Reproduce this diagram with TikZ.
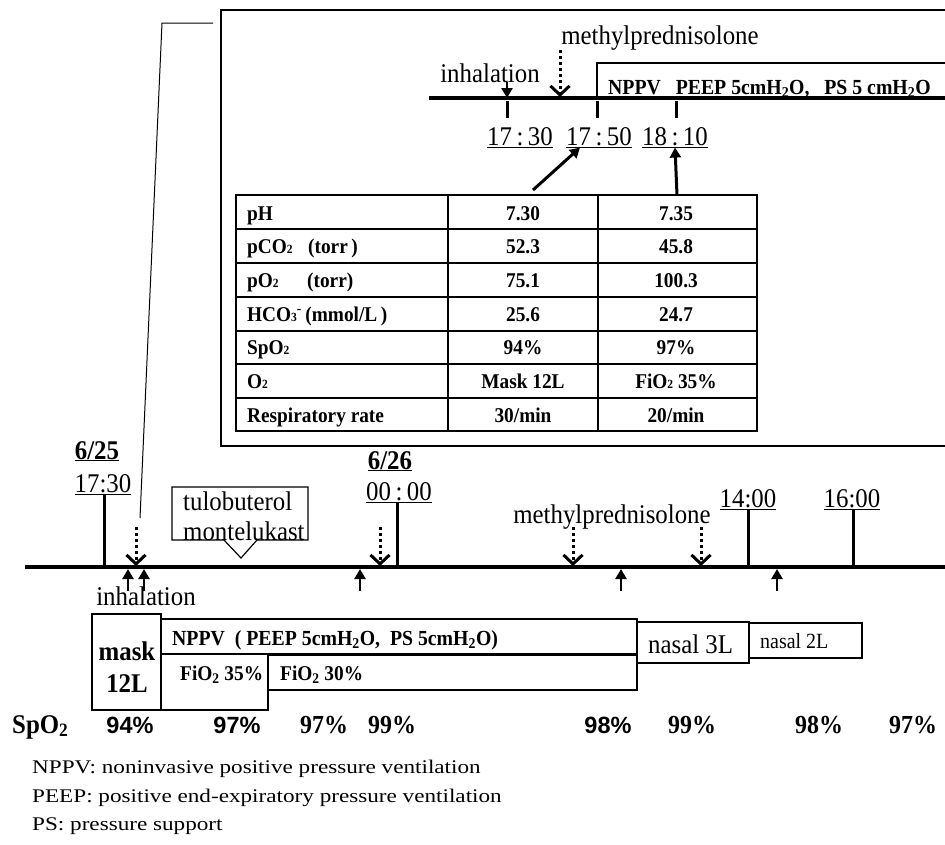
\documentclass[tikz,border=0pt]{standalone}
\usepackage{fontspec}
\setmainfont[FakeStretch=0.92]{Liberation Serif}
\newfontfamily\notefont[FakeStretch=1.2]{Liberation Serif}
\newfontfamily\arialfont{Liberation Sans}
\usetikzlibrary{positioning, arrows.meta}
\newcommand\lowdig[1]{{\fontsize{12.5}{12}\selectfont #1}}

\tikzset{
  txt/.style={inner sep=0pt, anchor=base, font=\fontsize{27}{30}\selectfont},
  bigbold/.style={inner sep=0pt, anchor=base, font=\bfseries\fontsize{27}{30}\selectfont},
  bld/.style={inner sep=0pt, anchor=base, font=\bfseries\fontsize{21}{24}\selectfont},
  nppvtxt/.style={inner sep=0pt, anchor=base west, font=\bfseries\fontsize{21.5}{24}\selectfont},
  sansval/.style={inner sep=0pt, anchor=base, font=\arialfont\bfseries\fontsize{23.5}{26}\selectfont},
  serifval/.style={inner sep=0pt, anchor=base, font=\bfseries\fontsize{26}{28}\selectfont},
  note/.style={inner sep=0pt, anchor=base west, font=\notefont\fontsize{19.3}{23}\selectfont},
  axis/.style={line width=4.5pt},
  tick/.style={line width=3pt},
  thin/.style={line width=1.2pt},
  solidarrow/.style={line width=3pt, -{Triangle[length=10pt,width=11pt]}},
  uparrow/.style={line width=2.5pt, -{Triangle[length=10pt,width=11pt]}},
  dotarrow/.style={line width=3pt, dash pattern=on 3pt off 3pt, -{Straight Barb[length=9pt,width=19pt]}}
}

\begin{document}
\begin{tikzpicture}[x=1pt, y=-1pt]
  \useasboundingbox (0,0) rectangle (945,844);

  \draw [line width=1pt] (213,23) -- (162,23) -- (140,518);
  \draw [thin] (950,10) -- (221,10) -- (221,446) -- (950,446);

  \draw [line width=4pt] (429,98) -- (950,98);
  \draw [thin] (597,96) -- (597,63) -- (950,63);
  \node [nppvtxt] (nppvtop) at (608,94)
    {NPPV\ \ \ PEEP 5cmH\textsubscript{2}O,\ \ \ PS 5 cmH\textsubscript{2}O};
  \node [txt] (inhtop) at (490,82) {inhalation};
  \node [txt] (mptop) at (660,44) {methylprednisolone};
  \draw [uparrow] (507,82) -- (507,98);
  \draw [dotarrow] (560,50) -- (560,97);
  \foreach \x in {507,597,676}
    \draw [tick] (\x,101) -- (\x,118);
  \node [txt] (t1730) at (520,145) {\underline{17\,:\,30}};
  \node [txt] (t1750) at (599,145) {\underline{17\,:\,50}};
  \node [txt] (t1810) at (675,145) {\underline{18\,:\,10}};

  \draw [thin] (236,195) rectangle (757,431);
  \foreach \y in {229,263,297,331,364,398}
    \draw [thin] (236,\y) -- (757,\y);
  \draw [thin] (448,195) -- (448,431);
  \draw [thin] (598,195) -- (598,431);
  \foreach \lab/\va/\vb [count=\i from 0] in {
      pH/7.30/7.35,
      {\makebox[61pt][l]{pCO\lowdig{2}}(torr\,)}/52.3/45.8,
      {\makebox[60pt][l]{pO\lowdig{2}}(torr)}/75.1/100.3,
      {HCO\lowdig{3}\textsuperscript{-}\,(mmol/L\,)}/25.6/24.7,
      SpO\lowdig{2}/94\%/97\%,
      O\lowdig{2}/Mask 12L/FiO\lowdig{2} 35\%,
      Respiratory rate/{30/min}/{20/min}} {
    \node [bld, anchor=base west] (lab\i) at (247,{220+33.67*\i}) {\lab};
    \node [bld] (va\i) at (523,{220+33.67*\i}) {\va};
    \node [bld] (vb\i) at (676,{220+33.67*\i}) {\vb};
  }
  \draw [solidarrow] (533,190) -- ([xshift=-19pt]t1750.south);
  \draw [solidarrow] (677,195) -- (t1810.south);

  \draw [axis] (25,567) -- (950,567);
  \node [bigbold] (d625) at (97,459) {\underline{6/25}};
  \node [txt] (h1730) at (103,492) {\underline{17:30}};
  \node [bigbold] (d626) at (390,469) {\underline{6/26}};
  \node [txt] (h0000) at (399,500) {\underline{00\,:\,00}};
  \node [txt] (h1400) at (748,507) {\underline{14:00}};
  \node [txt] (h1600) at (852,507) {\underline{16:00}};
  \foreach \x/\y in {104/495,397/503,748/510,853/510}
    \draw [tick] (\x,\y) -- (\x,567);
  \foreach \x in {136,380,573,701}
    \draw [dotarrow] (\x,527) -- (\x,566);
  \foreach \x in {128,144,360,621,777}
    \draw [uparrow] (\x,591) -- (\x,569);
  \node [txt] (inhbot) at (146,605) {inhalation};
  \node [txt] (mpbot) at (612,523) {methylprednisolone};

  \draw [thin] (172,487) -- (308,487) -- (308,540) -- (257,540) -- (241,558)
    -- (224,540) -- (172,540) -- cycle;
  \node [txt, anchor=base west] (tulo) at (183,510) {tulobuterol};
  \node [txt, anchor=base west] (monte) at (183,540) {montelukast};

  \draw [thin] (92,614) rectangle (161,710);
  \draw [thin] (161,619) rectangle (637,654);
  \draw [thin] (161,654) rectangle (268,710);
  \draw [thin] (268,655) rectangle (637,690);
  \draw [thin] (637,622) rectangle (749,663);
  \draw [thin] (749,623) rectangle (862,658);
  \node [bigbold] (mask) at (127,660) {mask};
  \node [bigbold] (twelve) at (127,692) {12L};
  \node [nppvtxt] (nppv) at (172,645)
    {NPPV\ \ ( PEEP 5cmH\textsubscript{2}O,\ \ PS 5cmH\textsubscript{2}O)};
  \node [bld, anchor=base west] (fio35) at (180,680) {FiO\textsubscript{2} 35\%};
  \node [bld, anchor=base west] (fio30) at (280,680) {FiO\textsubscript{2} 30\%};
  \node [txt, anchor=base west] (nasal3) at (648,653) {nasal 3L};
  \node [txt, anchor=base west, font=\fontsize{21.7}{24}\selectfont] (nasal2) at (760,648) {nasal 2L};

  \node [bigbold, anchor=base west] (spo) at (12,733) {SpO\textsubscript{2}};
  \foreach \x/\v in {130/94,237/97,608/98}
    \node [sansval] (s\x) at (\x,733) {\v\%};
  \foreach \x/\v in {324/97,392/99,692/99,819/98,913/97}
    \node [serifval] (s\x) at (\x,733) {\v\%};

  \node [note] (fn1) at (32,773) {NPPV: noninvasive positive pressure ventilation};
  \node [note] (fn2) at (32,802) {PEEP: positive end-expiratory pressure ventilation};
  \node [note] (fn3) at (32,830) {PS: pressure support};
\end{tikzpicture}
\end{document}
